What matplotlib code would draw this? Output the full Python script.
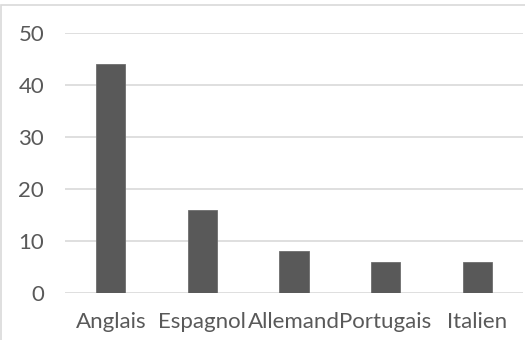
import matplotlib
matplotlib.use("Agg")
import matplotlib.pyplot as plt
from matplotlib.patches import Rectangle

langues = ["Anglais", "Espagnol", "Allemand", "Portugais", "Italien"]
valeurs = [44, 16, 8, 6, 6]
yticks = [0, 10, 20, 30, 40, 50]

W, H = 525, 340
plt.rcParams["font.family"] = ["Lato", "DejaVu Sans"]

fig = plt.figure(figsize=(W / 100, H / 100), dpi=100)
fig.patches.append(Rectangle((1 / W, -0.1), 1.2, (H - 4) / H + 0.1 - 1 / H,
                             transform=fig.transFigure, fill=False,
                             edgecolor="#D9D9D9", linewidth=1.2))

ax = fig.add_axes([65 / W, (H - 293) / H, (523 - 65) / W, (293 - 33) / H])
x = range(len(langues))
ax.bar(x, valeurs, width=0.32, color="#595959", edgecolor="#6e6e6e",
       linewidth=0.6, zorder=3)
ax.set_xlim(-0.5, len(langues) - 0.5)
ax.set_ylim(0, 50)
ax.set_yticks(yticks)
ax.set_xticks(list(x))
ax.set_xticklabels(langues)
ax.grid(axis="y", color="#D9D9D9", linewidth=1.2, zorder=0)
for s in ax.spines.values():
    s.set_visible(False)
ax.tick_params(length=0, labelsize=16, colors="#595959")
ax.tick_params(axis="y", pad=15)
ax.tick_params(axis="x", pad=14)

fig.savefig("out.png", dpi=100)
